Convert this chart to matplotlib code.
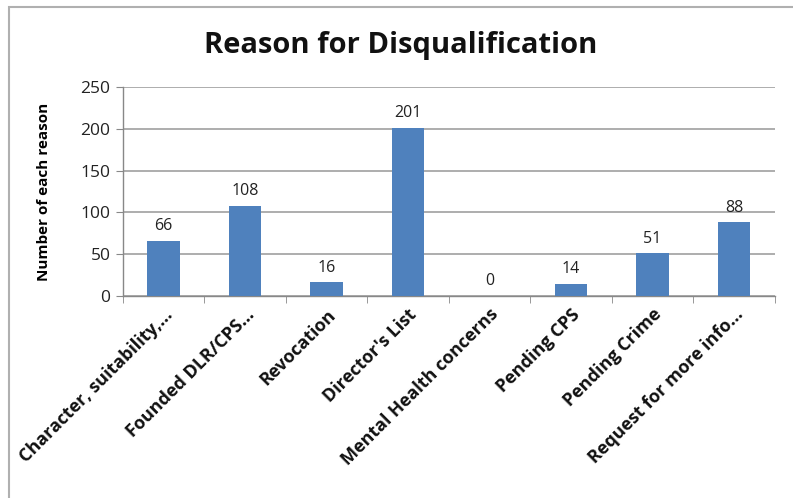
import matplotlib

matplotlib.use("Agg")
from matplotlib import pyplot as plt
from matplotlib.patches import Rectangle
from matplotlib.ticker import FixedLocator, NullFormatter

categories = [
    "Character, suitability,...",
    "Founded DLR/CPS...",
    "Revocation",
    "Director's List",
    "Mental Health concerns",
    "Pending CPS",
    "Pending Crime",
    "Request for more info...",
]
counts = [66, 108, 16, 201, 0, 14, 51, 88]
y_ticks = [0, 50, 100, 150, 200, 250]

plt.rcParams["font.family"] = ["Open Sans", "DejaVu Sans"]

fig = plt.figure(figsize=(7.93, 4.98), dpi=100)
ax = fig.add_axes([0.155, 0.406, 0.822, 0.419])

# outer chart border (cropped at right and bottom like the screenshot)
fig.patches.append(
    Rectangle((9 / 793, -0.05), 1.0, 1 - 7 / 498 + 0.05, transform=fig.transFigure,
              fill=False, edgecolor="#b0b0b0", linewidth=1.5)
)

xs = list(range(len(categories)))
bars = ax.bar(xs, counts, width=0.4, color="#4f81bd", zorder=3)
for x, v in zip(xs, counts):
    ax.text(x, v + 8, str(v), ha="center", va="bottom", fontsize=11.5, color="#222222")

ax.set_xlim(-0.5, len(categories) - 0.5)
ax.set_ylim(0, 250)
ax.set_yticks(y_ticks)
ax.tick_params(axis="y", labelsize=12.5, colors="#222222", length=5, color="#888888", pad=4)
ax.yaxis.grid(True, color="#a0a0a0", linewidth=1.2, zorder=0)

ax.set_xticks(xs)
ax.set_xticklabels(categories, rotation=45, ha="right", rotation_mode="anchor",
                   fontsize=13, fontweight="bold", color="#111111")
ax.tick_params(axis="x", length=0, pad=7)
ax.xaxis.set_minor_locator(FixedLocator([x + 0.5 for x in range(-1, len(categories))]))
ax.xaxis.set_minor_formatter(NullFormatter())
ax.tick_params(axis="x", which="minor", length=5, color="#888888")

for side in ("top", "right"):
    ax.spines[side].set_visible(False)
for side in ("left", "bottom"):
    ax.spines[side].set_color("#888888")
    ax.spines[side].set_linewidth(1.0)

ax.set_ylabel("Number of each reason", fontsize=11, fontweight="bold", labelpad=21)
fig.text(0.505, 0.908, "Reason for Disqualification", ha="center", va="center",
         fontsize=21, fontweight="bold", color="#111111")

fig.savefig("out.png", dpi=100)
